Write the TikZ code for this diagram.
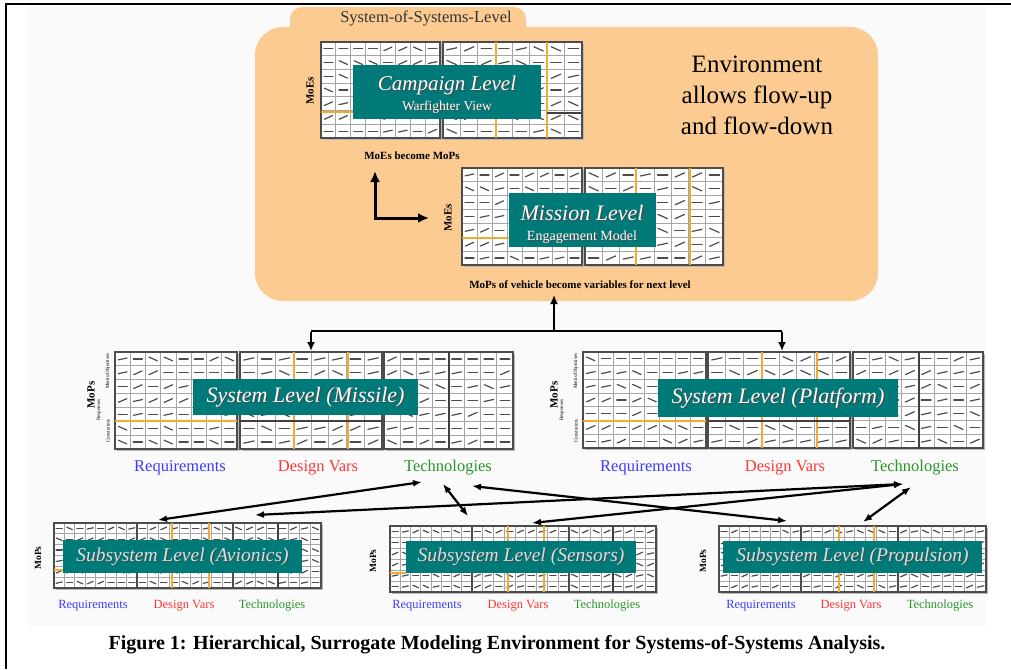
\documentclass[tikz,border=0pt]{standalone}
\usepackage{fontspec}
\setmainfont{Liberation Serif}
\usetikzlibrary{arrows.meta}

\definecolor{panelorange}{RGB}{251,203,145}
\definecolor{tealbg}{RGB}{0,122,120}
\definecolor{accentline}{RGB}{242,170,50}
\definecolor{reqblue}{RGB}{60,60,255}
\definecolor{dvred}{RGB}{255,55,55}
\definecolor{techgreen}{RGB}{40,150,40}
\definecolor{pagegray}{RGB}{250,250,250}

\tikzset{
  cellmark/.style={black!70, line width=1.2pt, line cap=round},
  cellline/.style={black!35, line width=1pt},
  blockedge/.style={black!70, line width=1.4pt},
  accent/.style={accentline, line width=1.5pt},
  darkrule/.style={black!75, line width=1.2pt},
  tealbox/.style={fill=tealbg, inner sep=0pt, draw=none},
  flow/.style={line width=2.2pt, {Latex[length=9pt,width=7pt]}-{Latex[length=9pt,width=7pt]}},
  feed/.style={line width=2.4pt, -{Latex[length=9pt,width=8pt]}},
  bent/.style={line width=3pt, -{Latex[length=11pt,width=10pt]}},
  biglbl/.style={font=\fontsize{16.5}{19}\selectfont, inner sep=0pt},
  smalllbl/.style={font=\fontsize{12.5}{14}\selectfont, inner sep=0pt},
  sidelbl/.style={font=\fontsize{11}{12}\selectfont\bfseries, rotate=90, inner sep=0pt},
  tinylbl/.style={font=\fontsize{5}{6}\selectfont, rotate=90, inner sep=0pt},
}

% one block of the surrogate matrix: x0,y0,x1,y1,columns,rows
\newcommand\cellblock[6]{%
  \fill[black!28] ({#1+2},{#2+2}) rectangle ({#3+2},{#4+2});
  \fill[white] (#1,#2) rectangle (#3,#4);
  \pgfmathsetmacro\blkcw{(#3-#1)/#5}
  \pgfmathsetmacro\blkch{(#4-#2)/#6}
  \pgfmathsetmacro\blkhl{min(0.3*\blkcw,5.5)}
  \foreach \cc in {1,...,#5}{
    \foreach \rr in {1,...,#6}{
      \pgfmathrandominteger\mk{0}{4}
      \pgfmathsetmacro\mang{{-24,-12,0,0,24}[\mk]}
      \pgfmathsetmacro\mcx{#1+(\cc-0.5)*\blkcw}
      \pgfmathsetmacro\mcy{#2+(\rr-0.5)*\blkch}
      \pgfmathsetmacro\mex{\blkhl*cos(\mang)}
      \pgfmathsetmacro\mey{\blkhl*sin(\mang)}
      \draw[cellmark] ({\mcx-\mex},{\mcy-\mey}) -- ({\mcx+\mex},{\mcy+\mey});
    }
  }
  \foreach \cc in {1,...,#5}{\draw[cellline] ({#1+\cc*\blkcw},#2) -- ({#1+\cc*\blkcw},#4);}
  \foreach \rr in {1,...,#6}{\draw[cellline] (#1,{#2+\rr*\blkch}) -- (#3,{#2+\rr*\blkch});}
  \draw[blockedge] (#1,#2) rectangle (#3,#4);
}

% embossed caption inside a teal box: x, y, font, colour, text
\newcommand\embossed[5]{%
  \node[text=black!70, inner sep=0pt, font=#3] at ({#1+1.2},{#2+1.2}) {#5};
  \node[text=#4, inner sep=0pt, font=#3] at (#1,#2) {#5};
}

\begin{document}
\begin{tikzpicture}[x=1pt, y=-1pt]
\pgfmathsetseed{7}
\useasboundingbox (0,0) rectangle (1011,669);
\fill[white] (0,0) rectangle (1011,669);
\fill[pagegray] (27,6) rectangle (986,626);

% frame
\draw[black, line width=2.5pt] (5,4) -- (1011,4);
\draw[black, line width=2.5pt] (6,4) -- (6,669);

% system-of-systems panel
\fill[panelorange, rounded corners=12pt] (290,7) rectangle (526,45);
\fill[panelorange, rounded corners=28pt] (255,27) rectangle (878,301);
\node[font=\fontsize{16.5}{19}\selectfont, text=black!80, inner sep=0pt] (soslabel) at (426,18) {System-of-Systems-Level};
\coordinate (sosbottom) at (554,301);

\node[font=\fontsize{25}{28}\selectfont, align=center, inner sep=0pt] (envtext) at (757,95)
  {Environment\\[3pt]allows flow-up\\[3pt]and flow-down};

% campaign level
\cellblock{321}{42}{440}{138}{8}{7}
\cellblock{443}{42}{582}{138}{8}{7}
\draw[accent] (496,42) -- (496,138);
\draw[accent] (547,42) -- (547,138);
\draw[accent] (321,112) -- (440,112);
\draw[darkrule] (547,113) -- (582,113);
\node[tealbox, minimum width=188pt, minimum height=54pt] (campaign) at (447,92) {};
\embossed{447}{85}{\fontsize{21}{24}\selectfont\itshape}{white}{Campaign Level}
\embossed{447}{107}{\fontsize{13.5}{15}\selectfont}{white}{Warfighter View}
\node[sidelbl] (campmoe) at (310,91) {MoEs};
\node[font=\fontsize{11}{12}\selectfont\bfseries, inner sep=0pt] (moetomop) at (412,156) {MoEs become MoPs};

% flow-up / flow-down corner arrow
\coordinate (bendcorner) at (375,218);
\coordinate (bendup) at (375,171);
\coordinate (bendright) at (429,218);
\draw[bent] ([yshift=1.5pt]bendcorner) -- (bendup);
\draw[bent] ([xshift=-1.5pt]bendcorner) -- (bendright);

% mission level
\cellblock{462}{168}{582}{265}{8}{7}
\cellblock{585}{168}{723}{265}{8}{7}
\draw[accent] (636,168) -- (636,265);
\draw[accent] (690,168) -- (690,265);
\draw[accent] (462,238) -- (509,238);
\node[tealbox, minimum width=147pt, minimum height=54pt] (mission) at (582.5,220) {};
\embossed{582}{213}{\fontsize{22}{24}\selectfont\itshape}{white}{Mission Level}
\embossed{582}{237}{\fontsize{14}{16}\selectfont}{white}{Engagement Model}
\node[sidelbl] (missmoe) at (448,218) {MoEs};
\node[font=\fontsize{11}{12}\selectfont\bfseries, inner sep=0pt] (mopvars) at (580,285) {MoPs of vehicle become variables for next level};

% system level (missile)
\cellblock{115}{352}{237}{449}{8}{7}
\cellblock{240}{352}{382}{449}{8}{7}
\cellblock{384}{352}{513}{449}{8}{7}
\draw[accent] (294,352) -- (294,449);
\draw[accent] (348,352) -- (348,449);
\draw[accent] (115,421) -- (237,421);
\draw[darkrule] (240,421) -- (382,421);
\draw[darkrule] (449,352) -- (449,449);
\node[tealbox, minimum width=225pt, minimum height=36pt] (missile) at (305.5,397) {};
\embossed{305.5}{397}{\fontsize{22}{24}\selectfont\itshape}{white}{System Level (Missile)}
\node[sidelbl] (misMoP) at (91,395) {MoPs};
\node[tinylbl] (misResp) at (99,410) {Responses};
\node[tinylbl] (misMerit) at (108,371) {Merits/Objectives};
\node[tinylbl] (misCons) at (108,431) {Constraints};
\node[biglbl, text=reqblue] (misReq) at (180,468) {Requirements};
\node[biglbl, text=dvred] (misDV) at (318,468) {Design Vars};
\node[biglbl, text=techgreen] (misTech) at (448,468) {Technologies};

% system level (platform)
\cellblock{583}{352}{706}{448}{8}{7}
\cellblock{708}{352}{850}{448}{8}{7}
\cellblock{853}{352}{983}{448}{8}{7}
\draw[accent] (762,352) -- (762,448);
\draw[accent] (817,352) -- (817,448);
\draw[accent] (583,421) -- (706,421);
\draw[darkrule] (708,421) -- (850,421);
\draw[darkrule] (919,352) -- (919,448);
\node[tealbox, minimum width=240pt, minimum height=38pt] (platform) at (778,398) {};
\embossed{778}{398}{\fontsize{22}{24}\selectfont\itshape}{white}{System Level (Platform)}
\node[sidelbl] (plaMoP) at (554,395) {MoPs};
\node[tinylbl] (plaResp) at (562,410) {Responses};
\node[tinylbl] (plaMerit) at (576,371) {Merits/Objectives};
\node[tinylbl] (plaCons) at (576,431) {Constraints};
\node[biglbl, text=reqblue] (plaReq) at (646,468) {Requirements};
\node[biglbl, text=dvred] (plaDV) at (785,468) {Design Vars};
\node[biglbl, text=techgreen] (plaTech) at (915,468) {Technologies};

% feed from the system level into the panel
\coordinate (hub) at (554,331);
\coordinate (misTop) at (311,351);
\coordinate (plaTop) at (782,351);
\draw[feed, shorten >=-1pt] (hub) -- ([yshift=5pt]sosbottom);
\draw[line width=2.4pt] (hub -| misTop) -- (hub -| plaTop);
\draw[feed] ([yshift=-1pt]hub -| misTop) -- (misTop);
\draw[feed] ([yshift=-1pt]hub -| plaTop) -- (plaTop);

% subsystem level (avionics)
\cellblock{54}{523}{137}{588}{8}{6}
\cellblock{137}{523}{233}{588}{9}{6}
\cellblock{233}{523}{321}{588}{8}{6}
\draw[accent] (172,523) -- (172,588);
\draw[accent] (209,523) -- (209,588);
\draw[accent] (54,570) -- (63,570);
\draw[darkrule] (278,523) -- (278,588);
\node[tealbox, minimum width=239pt, minimum height=33pt] (avionics) at (182.5,556.5) {};
\embossed{182.5}{556.5}{\fontsize{19.5}{21}\selectfont\itshape}{white!80!tealbg}{Subsystem Level (Avionics)}
\node[sidelbl, font=\fontsize{9.5}{10}\selectfont\bfseries] (avMoP) at (38,558) {MoPs};
\node[smalllbl, text=reqblue] (avReq) at (93,606) {Requirements};
\node[smalllbl, text=dvred] (avDVl) at (184,606) {Design Vars};
\node[smalllbl, text=techgreen] (avTechl) at (272,606) {Technologies};

% subsystem level (sensors)
\cellblock{390}{526}{472}{592}{8}{6}
\cellblock{472}{526}{569}{592}{9}{6}
\cellblock{569}{526}{656}{592}{8}{6}
\draw[accent] (508,526) -- (508,592);
\draw[accent] (544,526) -- (544,592);
\draw[accent] (390,573) -- (406,573);
\draw[darkrule] (613,526) -- (613,592);
\node[tealbox, minimum width=230pt, minimum height=32pt] (sensors) at (521,557) {};
\embossed{521}{557}{\fontsize{19.5}{21}\selectfont\itshape}{white!80!tealbg}{Subsystem Level (Sensors)}
\node[sidelbl, font=\fontsize{9.5}{10}\selectfont\bfseries] (senMoP) at (373,561) {MoPs};
\node[smalllbl, text=reqblue] (senReql) at (427,606) {Requirements};
\node[smalllbl, text=dvred] (senDVl) at (518,606) {Design Vars};
\node[smalllbl, text=techgreen] (senTechl) at (607,606) {Technologies};

% subsystem level (propulsion)
\cellblock{719}{526}{801}{592}{8}{6}
\cellblock{801}{526}{898}{592}{9}{6}
\cellblock{898}{526}{986}{592}{8}{6}
\draw[accent] (839,526) -- (839,592);
\draw[accent] (874,526) -- (874,592);
\node[tealbox, minimum width=259pt, minimum height=32pt] (propulsion) at (852.5,557) {};
\embossed{852.5}{557}{\fontsize{19.5}{21}\selectfont\itshape}{white!80!tealbg}{Subsystem Level (Propulsion)}
\node[sidelbl, font=\fontsize{9.5}{10}\selectfont\bfseries] (proMoP) at (703,561) {MoPs};
\node[smalllbl, text=reqblue] (proReql) at (761,606) {Requirements};
\node[smalllbl, text=dvred] (proDVl) at (851,606) {Design Vars};
\node[smalllbl, text=techgreen] (proTechl) at (940,606) {Technologies};

% technology links between levels
\coordinate (avDV) at (158,520);
\coordinate (avTech) at (255,515);
\coordinate (misTechA) at (422,482);
\coordinate (misTechB) at (443,484);
\coordinate (misTechC) at (472,486);
\coordinate (senReq) at (468,516);
\coordinate (senDV) at (532,523);
\coordinate (proReq) at (787,521);
\coordinate (proDV) at (863,522);
\coordinate (plaTechA) at (903,484);
\coordinate (plaTechB) at (911,487);
\draw[flow] (avDV) -- (misTechA);
\draw[flow] (misTechB) -- (senReq);
\draw[flow] (misTechC) -- (proReq);
\draw[flow] (avTech) -- (plaTechA);
\draw[flow] (senDV) -- (plaTechA);
\draw[flow] (plaTechB) -- (proDV);

% caption
\node[font=\fontsize{20}{23}\selectfont\bfseries, inner sep=0pt] (caption) at (497,645)
  {Figure 1: Hierarchical, Surrogate Modeling Environment for Systems-of-Systems Analysis.};
\end{tikzpicture}
\end{document}
